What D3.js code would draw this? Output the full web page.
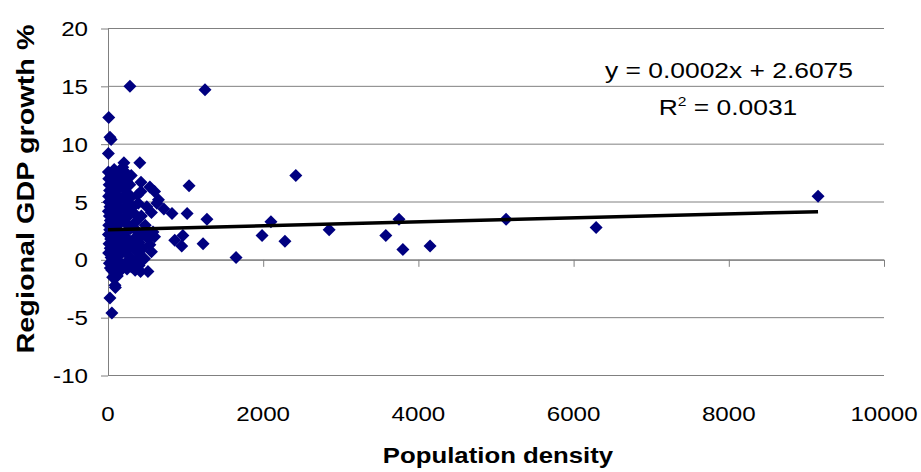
<!DOCTYPE html>
<html>
<head>
<meta charset="utf-8">
<script src="https://cdn.jsdelivr.net/npm/d3@7/dist/d3.min.js"></script>
<style>
  html, body { margin: 0; padding: 0; background: #fff; }
  svg { display: block; font-family: 'Liberation Sans', Arial, sans-serif; }
</style>
</head>
<body>
<div id="chart"></div>
<script>
// population density (x) and regional GDP growth % (y)
const density = [
  5, 10, 15, 20, 8, 12, 25, 5, 18, 30, 10, 22, 6, 35, 14, 28, 8, 40, 18, 30, 50,
  45, 55, 60, 40, 52, 48, 58, 42, 62, 55, 65, 60, 70,
  80, 90, 100, 85, 110, 95, 120, 105, 130, 90, 115, 140, 100, 125, 150, 85, 110, 135, 95, 120, 150,
  160, 145, 155, 165, 150, 170, 160, 175, 165,
  190, 205, 220, 200, 240, 215, 250, 195, 230, 260, 210, 245, 280, 200, 225, 265, 290, 210, 240, 275, 195, 230, 260, 285, 205, 245, 300, 300, 280, 295,
  320, 340, 360, 330, 380, 350, 400, 320, 370, 410, 340, 350, 400, 425, 410, 425, 390, 430, 440, 450, 420, 380,
  480, 500, 520, 540, 560, 515, 470, 540, 600, 650, 580, 600, 560, 500,
  283, 1250, 10, 25, 40, 5, 630, 720, 825, 1045, 1020, 1275, 2100, 1985, 2280, 2420, 2850, 3580, 3750, 3800,
  4150, 5130, 6290, 9150, 965, 950, 860, 1225, 1650, 60, 120, 95, 90, 25, 50
]
const growth = [
  7.6, 7.0, 6.5, 6.0, 5.5, 5.0, 4.6, 4.2, 3.8, 3.4, 3.0, 2.6, 2.2, 1.8, 1.4, 1.0, 0.6, 0.2, -0.3, -0.7, -0.9,
  7.3, 6.8, 6.2, 5.7, 5.2, 4.4, 3.9, 3.1, 2.4, 1.5, 0.8, 0.0, -0.5,
  7.8, 7.1, 6.5, 6.0, 5.6, 5.0, 4.7, 4.1, 3.7, 3.3, 2.9, 2.5, 2.0, 1.7, 1.3, 1.0, 0.6, 0.3, -0.2, -0.6, -1.0,
  7.4, 6.9, 6.3, 5.3, 4.3, 3.5, 2.2, 0.9, -0.3,
  8.0, 8.4, 7.6, 7.0, 6.8, 6.1, 5.8, 5.4, 5.1, 4.8, 4.5, 4.2, 3.9, 3.6, 3.2, 3.0, 2.7, 2.3, 1.9, 1.6, 1.2, 0.8, 0.4, 0.1, -0.4, -0.8, -0.6, 7.3, 6.5, 5.4,
  4.6, 4.0, 3.3, 2.8, 2.4, 1.9, 1.5, 1.1, 0.7, 0.3, -0.2, -0.9, -0.5, 6.7, 8.4, 5.9, 4.9, 3.8, 2.1, 1.0, -1.0, 5.6,
  3.0, 2.5, 1.8, 1.3, 0.7, -1.0, 0.1, 6.3, 5.9, 5.2, 2.4, 2.0, 4.1, 4.6,
  15.0, 14.7, 12.3, 10.6, 10.4, 9.2, 4.9, 4.4, 4.0, 6.4, 4.0, 3.5, 3.3, 2.1, 1.6, 7.3, 2.6, 2.1, 3.5, 0.9,
  1.2, 3.5, 2.8, 5.5, 2.1, 1.2, 1.7, 1.4, 0.2, -1.5, -1.4, -2.4, -2.2, -3.3, -4.6
]
const xTicks = [0, 2000, 4000, 6000, 8000, 10000]
const yTicks = [-10, -5, 0, 5, 10, 15, 20]
const trendIntercept = 2.6075
const trendSlope = 0.00017
const equationLabel = 'y = 0.0002x + 2.6075'
const rSquaredLabel = '0.0031'
const xTitle = 'Population density'
const yTitle = 'Regional GDP growth %'

const width = 921
const height = 472
const plotLeft = 108
const plotRight = 884
const plotTop = 28.5
const plotBottom = 375.5

const svg = d3.select('#chart')
  .append('svg')
  .attr('width', width)
  .attr('height', height)

const x = d3.scaleLinear().domain([0, 10000]).range([plotLeft, plotRight])
const y = d3.scaleLinear().domain([-10, 20]).range([plotBottom, plotTop])

const points = density.map((d, i) => ({ x: d, y: growth[i] }))

// the original text is drawn a bit wide, so stretch it sideways
function wideText (parent, tx, ty, str, size, stretch, anchor, rotate = 0) {
  return parent.append('text')
    .attr('transform', `translate(${tx},${ty}) rotate(${rotate}) scale(${stretch},1)`)
    .attr('text-anchor', anchor)
    .style('font-size', size + 'px')
    .text(str)
}

// horizontal gridlines
svg.append('g')
  .selectAll('line')
  .data(yTicks)
  .enter()
  .append('line')
  .attr('x1', plotLeft)
  .attr('x2', plotRight)
  .attr('y1', d => y(d))
  .attr('y2', d => y(d))
  .style('stroke', '#808080')
  .style('stroke-width', 1)

// y axis
svg.append('g')
  .attr('transform', `translate(${plotLeft},0)`)
  .call(d3.axisLeft(y).tickValues(yTicks).tickSize(7).tickSizeOuter(0).tickFormat(''))
  .call(g => g.selectAll('path, line').style('stroke', '#808080'))

// x axis sits on y = 0
svg.append('g')
  .attr('transform', `translate(0,${y(0)})`)
  .call(d3.axisBottom(x).tickValues(xTicks).tickSize(7).tickSizeOuter(0).tickFormat(''))
  .call(g => g.selectAll('path, line').style('stroke', '#808080'))

// tick labels
const yLabels = svg.append('g')
yTicks.forEach(d => wideText(yLabels, 88, y(d) + 7.5, d, 21, 1.15, 'end'))

const xLabels = svg.append('g')
xTicks.forEach(d => wideText(xLabels, x(d), 421, d, 21, 1.15, 'middle'))

// points
const half = 6.5
svg.append('g')
  .selectAll('path')
  .data(points)
  .enter()
  .append('path')
  .attr('d', `M0,${-half}L${half},0L0,${half}L${-half},0Z`)
  .attr('transform', d => `translate(${x(d.x)},${y(d.y)})`)
  .style('fill', '#000080')

// trend line
const xMax = d3.max(density)
svg.append('line')
  .attr('x1', x(0))
  .attr('x2', x(xMax))
  .attr('y1', y(trendIntercept))
  .attr('y2', y(trendIntercept + trendSlope * xMax))
  .style('stroke', '#000')
  .style('stroke-width', 3.5)

// equation
wideText(svg, 729, 78, equationLabel, 22, 1.2, 'middle')

const r2 = svg.append('text')
  .attr('transform', 'translate(728,115) scale(1.2,1)')
  .attr('text-anchor', 'middle')
  .style('font-size', '22px')
r2.append('tspan').text('R')
r2.append('tspan').attr('dy', -9).style('font-size', '13px').text('2')
r2.append('tspan').attr('dy', 9).text(' = ' + rSquaredLabel)

// axis titles
wideText(svg, (plotLeft + plotRight) / 2 + 2, 463, xTitle, 23, 1.12, 'middle')
  .style('font-weight', 'bold')

wideText(svg, 34, 189, yTitle, 24, 1.2, 'middle', -90)
  .style('font-weight', 'bold')
</script>
</body>
</html>
